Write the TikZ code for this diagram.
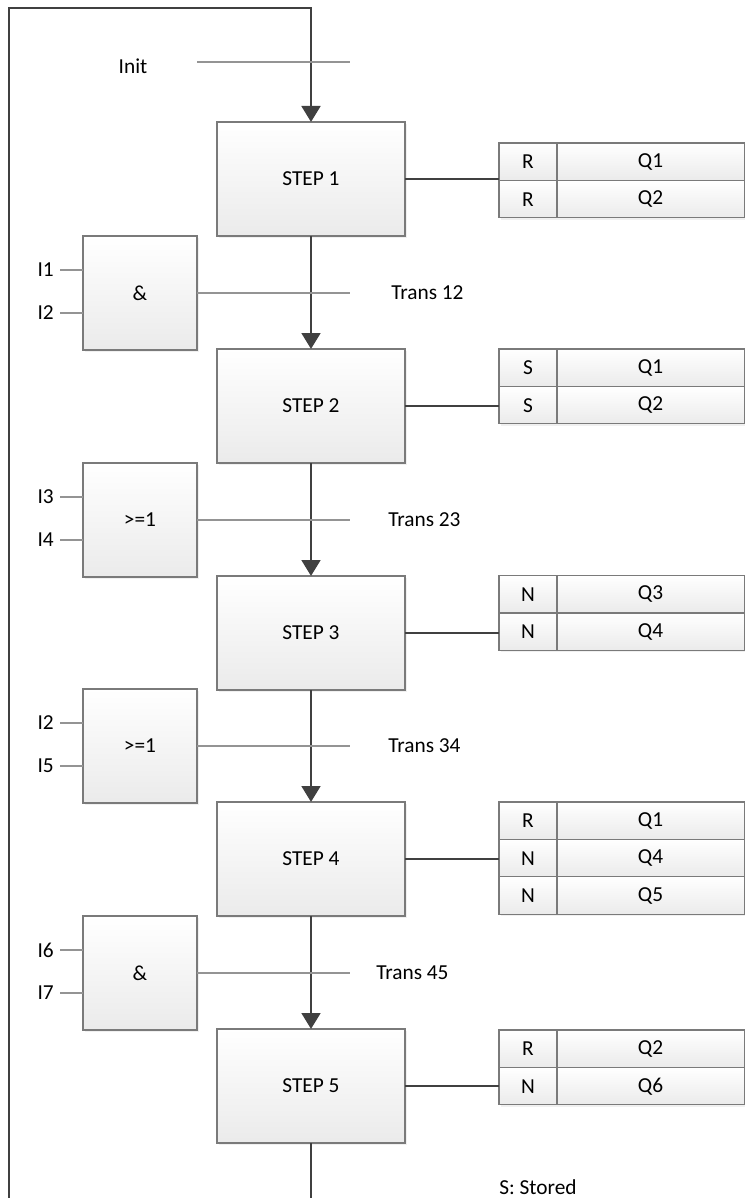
\documentclass[tikz,border=0pt]{standalone}
\usepackage{fontspec}
\setmainfont{Carlito}
\usepackage{tikz}
\usetikzlibrary{arrows.meta, positioning, shadows}

\begin{document}
\begin{tikzpicture}[
    x=0.75pt, y=-0.75pt,
    font=\fontsize{16}{19}\selectfont,
    box/.style={draw=black!52, line width=0.8pt, top color=white, bottom color=black!8, inner sep=0pt, outer sep=0pt,
        drop shadow={opacity=0.12, shadow xshift=1.2pt, shadow yshift=-1.2pt}},
    stepbox/.style={box, minimum width=141pt, minimum height=85.5pt},
    gatebox/.style={box, minimum width=85.5pt, minimum height=85.5pt},
    qualcell/.style={box, minimum width=43.5pt, minimum height=28.1pt},
    actcell/.style={box, minimum width=140.3pt, minimum height=28.1pt},
    inlabel/.style={anchor=east, inner sep=4.5pt},
    translabel/.style={anchor=west, inner sep=0pt},
    flow/.style={-{Triangle[width=14pt, length=12pt]}, line width=2.2pt, black!75},
    link/.style={line width=2.2pt, black!75},
    condline/.style={line width=1.1pt, black!42}
]
    \useasboundingbox (0, 0) rectangle (745, 1198);

    % Step chain.
    \node[stepbox] (s1) at (311, 179) {STEP 1};
    \node[stepbox] (s2) at (311, 406) {STEP 2};
    \node[stepbox] (s3) at (311, 633) {STEP 3};
    \node[stepbox] (s4) at (311, 859) {STEP 4};
    \node[stepbox] (s5) at (311, 1086) {STEP 5};
    \draw[flow] (s1) -- (s2);
    \draw[flow] (s2) -- (s3);
    \draw[flow] (s3) -- (s4);
    \draw[flow] (s4) -- (s5);

    % Return loop from the last step back to the first.
    \coordinate (loopbot) at (9, 1215);
    \coordinate (looptop) at (9, 8);
    \draw[flow] (s5.south) |- (loopbot) -- (looptop) -| (s1.north);

    % Init condition.
    \node (init) at (133, 66) {Init};
    \coordinate (initl) at (197, 62);
    \coordinate (initr) at (350, 62);
    \draw[condline] (initl) -- (initr);

    % Transition gates with their inputs.
    \node[gatebox] (g1) at (140, 293) {\&};
    \node[gatebox] (g2) at (140, 520) {>=1};
    \node[gatebox] (g3) at (140, 746) {>=1};
    \node[gatebox] (g4) at (140, 973) {\&};

    \node[inlabel] (i1) at (60, 270) {I1};
    \node[inlabel] (i2) at (60, 313) {I2};
    \node[inlabel] (i3) at (60, 497) {I3};
    \node[inlabel] (i4) at (60, 540) {I4};
    \node[inlabel] (i5) at (60, 723) {I2};
    \node[inlabel] (i6) at (60, 766) {I5};
    \node[inlabel] (i7) at (60, 950) {I6};
    \node[inlabel] (i8) at (60, 993) {I7};
    \draw[condline] (i1.east) -- (i1.east -| g1.west);
    \draw[condline] (i2.east) -- (i2.east -| g1.west);
    \draw[condline] (i3.east) -- (i3.east -| g2.west);
    \draw[condline] (i4.east) -- (i4.east -| g2.west);
    \draw[condline] (i5.east) -- (i5.east -| g3.west);
    \draw[condline] (i6.east) -- (i6.east -| g3.west);
    \draw[condline] (i7.east) -- (i7.east -| g4.west);
    \draw[condline] (i8.east) -- (i8.east -| g4.west);

    \coordinate (t12) at (350, 293);
    \coordinate (t23) at (350, 520);
    \coordinate (t34) at (350, 746);
    \coordinate (t45) at (350, 973);
    \draw[condline] (g1.east) -- (t12);
    \draw[condline] (g2.east) -- (t23);
    \draw[condline] (g3.east) -- (t34);
    \draw[condline] (g4.east) -- (t45);
    \node[translabel] (trans12) at (391, 293) {Trans 12};
    \node[translabel] (trans23) at (388, 520) {Trans 23};
    \node[translabel] (trans34) at (388, 746) {Trans 34};
    \node[translabel] (trans45) at (376, 973) {Trans 45};

    % Action blocks.
    \node[qualcell] (q11) at (528, 161.75) {R};
    \node[actcell, right=0pt of q11] (a11) {Q1};
    \node[qualcell, below=0pt of q11] (q12) {R};
    \node[actcell, right=0pt of q12] (a12) {Q2};
    \draw[link] (s1.east) -- (s1.east -| q11.west);

    \node[qualcell] (q21) at (528, 367.75) {S};
    \node[actcell, right=0pt of q21] (a21) {Q1};
    \node[qualcell, below=0pt of q21] (q22) {S};
    \node[actcell, right=0pt of q22] (a22) {Q2};
    \draw[link] (s2.east) -- (s2.east -| q21.west);

    \node[qualcell] (q31) at (528, 594.25) {N};
    \node[actcell, right=0pt of q31] (a31) {Q3};
    \node[qualcell, below=0pt of q31] (q32) {N};
    \node[actcell, right=0pt of q32] (a32) {Q4};
    \draw[link] (s3.east) -- (s3.east -| q31.west);

    \node[qualcell] (q41) at (528, 820.75) {R};
    \node[actcell, right=0pt of q41] (a41) {Q1};
    \node[qualcell, below=0pt of q41] (q42) {N};
    \node[actcell, right=0pt of q42] (a42) {Q4};
    \node[qualcell, below=0pt of q42] (q43) {N};
    \node[actcell, right=0pt of q43] (a43) {Q5};
    \draw[link] (s4.east) -- (s4.east -| q41.west);

    \node[qualcell] (q51) at (528, 1048.75) {R};
    \node[actcell, right=0pt of q51] (a51) {Q2};
    \node[qualcell, below=0pt of q51] (q52) {N};
    \node[actcell, right=0pt of q52] (a52) {Q6};
    \draw[link] (s5.east) -- (s5.east -| q51.west);

    \node[anchor=base west, inner sep=0pt] (note) at (499, 1194) {S: Stored};

\end{tikzpicture}
\end{document}
